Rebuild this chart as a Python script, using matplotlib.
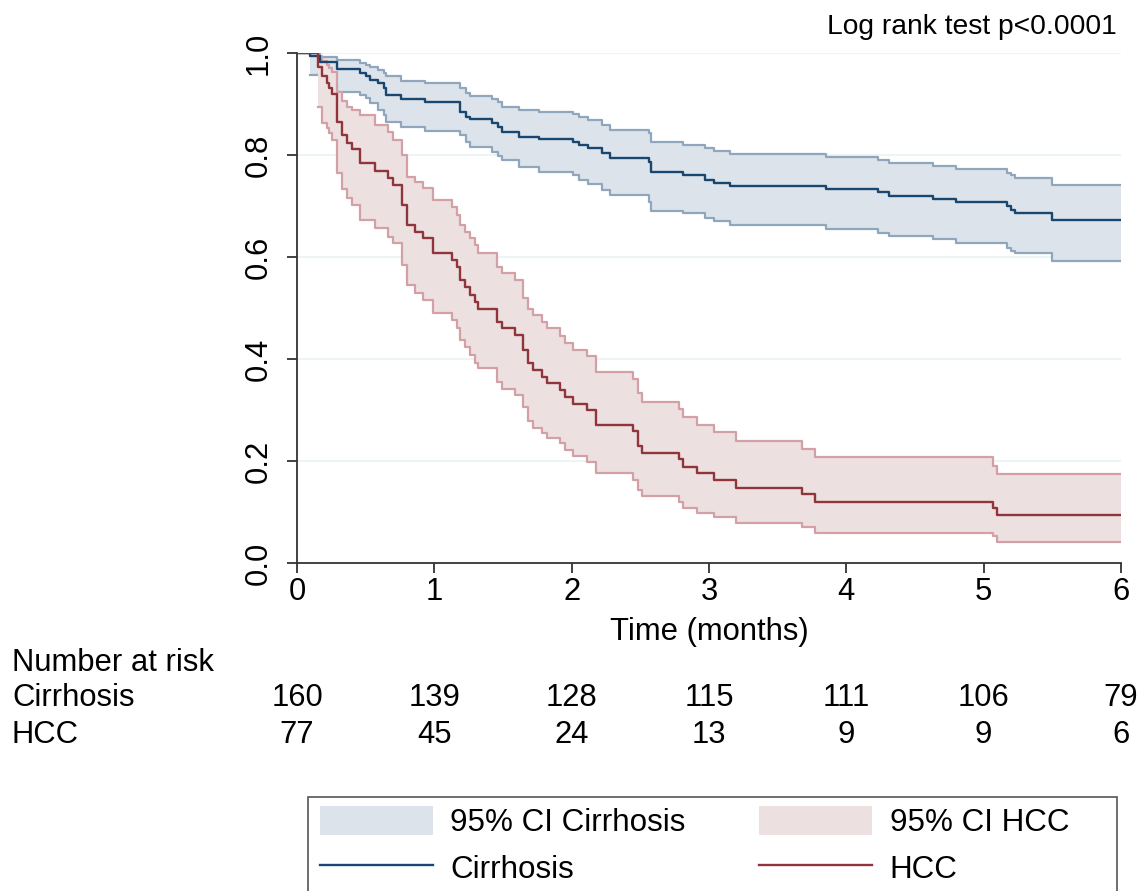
import numpy as np
import matplotlib
matplotlib.use("Agg")
import matplotlib.pyplot as plt
from matplotlib import transforms
from matplotlib.patches import Patch, Rectangle
from matplotlib.lines import Line2D

plt.rcParams['font.family'] = ['Liberation Sans', 'DejaVu Sans']

# ---------------- data ----------------
cir_t = [0.095, 0.17, 0.29, 0.46, 0.50, 0.53, 0.59, 0.63, 0.65, 0.76, 0.93,
         1.19, 1.23, 1.26, 1.42, 1.46, 1.49, 1.62, 1.76, 2.01, 2.05, 2.12,
         2.22, 2.28, 2.56, 2.58, 2.81, 2.97, 3.04, 3.15, 3.85, 4.23, 4.31,
         4.63, 4.80, 5.17, 5.20, 5.23, 5.50]
cir_s = [0.995, 0.982, 0.968, 0.960, 0.954, 0.948, 0.941, 0.931, 0.918, 0.909, 0.903,
         0.885, 0.875, 0.870, 0.862, 0.854, 0.846, 0.836, 0.831, 0.826, 0.820, 0.813,
         0.803, 0.794, 0.787, 0.766, 0.760, 0.751, 0.746, 0.740, 0.733, 0.728, 0.720,
         0.714, 0.707, 0.700, 0.692, 0.687, 0.673]
cir_hi = [1.000, 0.993, 0.986, 0.981, 0.976, 0.972, 0.967, 0.960, 0.954, 0.946, 0.941,
          0.931, 0.921, 0.916, 0.909, 0.903, 0.895, 0.888, 0.885, 0.880, 0.874, 0.869,
          0.859, 0.850, 0.843, 0.826, 0.820, 0.813, 0.808, 0.802, 0.797, 0.790, 0.784,
          0.778, 0.773, 0.765, 0.760, 0.755, 0.741]
cir_lo = [0.956, 0.940, 0.924, 0.918, 0.911, 0.901, 0.888, 0.878, 0.865, 0.854, 0.848,
          0.839, 0.826, 0.816, 0.806, 0.798, 0.790, 0.776, 0.767, 0.761, 0.751, 0.743,
          0.731, 0.722, 0.708, 0.691, 0.686, 0.677, 0.671, 0.663, 0.654, 0.648, 0.641,
          0.635, 0.628, 0.617, 0.612, 0.607, 0.592]

hcc_t = [0.155, 0.18, 0.216, 0.23, 0.257, 0.289, 0.325, 0.362, 0.40, 0.459, 0.568,
         0.665, 0.70, 0.762, 0.80, 0.859, 0.92, 0.993, 1.127, 1.163, 1.187, 1.224,
         1.26, 1.297, 1.32, 1.454, 1.49, 1.588, 1.648, 1.685, 1.72, 1.782, 1.82,
         1.916, 1.952, 2.01, 2.11, 2.18, 2.45, 2.48, 2.51, 2.78, 2.81, 2.91, 3.04,
         3.20, 3.676, 3.77, 5.07, 5.095]
hcc_s = [0.973, 0.954, 0.941, 0.932, 0.919, 0.865, 0.839, 0.823, 0.812, 0.784, 0.769,
         0.754, 0.742, 0.702, 0.663, 0.650, 0.637, 0.607, 0.594, 0.581, 0.555, 0.541,
         0.525, 0.512, 0.499, 0.473, 0.460, 0.447, 0.418, 0.392, 0.378, 0.365, 0.352,
         0.339, 0.326, 0.312, 0.300, 0.271, 0.258, 0.229, 0.216, 0.203, 0.189, 0.176, 0.162,
         0.148, 0.135, 0.120, 0.107, 0.094]
hcc_hi = [0.995, 0.985, 0.976, 0.970, 0.963, 0.924, 0.905, 0.895, 0.888, 0.878, 0.859,
          0.846, 0.829, 0.800, 0.757, 0.748, 0.735, 0.712, 0.699, 0.682, 0.663, 0.650,
          0.637, 0.624, 0.608, 0.581, 0.569, 0.555, 0.519, 0.499, 0.486, 0.473, 0.460,
          0.445, 0.432, 0.418, 0.405, 0.374, 0.360, 0.333, 0.316, 0.301, 0.287, 0.271, 0.256,
          0.240, 0.223, 0.207, 0.190, 0.174]
hcc_lo = [0.895, 0.862, 0.852, 0.844, 0.829, 0.764, 0.733, 0.715, 0.702, 0.673, 0.656,
          0.640, 0.627, 0.584, 0.545, 0.529, 0.516, 0.490, 0.476, 0.460, 0.437, 0.424,
          0.408, 0.393, 0.382, 0.355, 0.342, 0.330, 0.305, 0.278, 0.264, 0.255, 0.246,
          0.235, 0.222, 0.210, 0.199, 0.176, 0.163, 0.143, 0.131, 0.119, 0.108, 0.098, 0.090,
          0.079, 0.070, 0.059, 0.052, 0.041]

risk_times = [0, 1, 2, 3, 4, 5, 6]
risk_cir = [160, 139, 128, 115, 111, 106, 79]
risk_hcc = [77, 45, 24, 13, 9, 9, 6]

T_END = 6.0

# ---------------- styles ----------------
C_CIR = '#1a476f'
C_HCC = '#90353b'
F_CIR = '#dde3ea'
F_HCC = '#ede0e1'
E_CIR = '#8fa6bd'
E_HCC = '#d3a0a5'
FS = 22.3

W, H = 1146, 891
fig = plt.figure(figsize=(W / 100, H / 100), dpi=100)
ax = fig.add_axes([297 / W, 1 - 563 / H, (1121 - 297) / W, (563 - 53) / H])


def ext(t, v):
    return np.r_[t, T_END], np.r_[v, v[-1]]


def draw_group(t, s, lo, hi, fcol, ecol, lcol, zf):
    tt, ll = ext(t, lo)
    _, hh = ext(t, hi)
    ax.fill_between(tt, ll, hh, step='post', color=fcol, lw=0, zorder=zf)
    ax.step(tt, ll, where='post', color=ecol, lw=1.6, zorder=zf + 0.1)
    ax.step(tt, hh, where='post', color=ecol, lw=1.6, zorder=zf + 0.1)
    ts, ss = ext(np.r_[0.0, t], np.r_[1.0, s])
    ax.step(ts, ss, where='post', color=lcol, lw=1.7, zorder=5)


draw_group(cir_t, cir_s, cir_lo, cir_hi, F_CIR, E_CIR, C_CIR, 1)
draw_group(hcc_t, hcc_s, hcc_lo, hcc_hi, F_HCC, E_HCC, C_HCC, 2)

ax.set_xlim(0, 6)
ax.set_ylim(0, 1)
ax.set_xticks(range(0, 7))
ax.set_yticks(np.arange(0, 1.01, 0.2))
ax.set_yticklabels([f'{v:.1f}' for v in np.arange(0, 1.01, 0.2)], rotation=90, va='center')
for y in np.arange(0.2, 1.01, 0.2):
    ax.axhline(y, color='#eaf2f3', lw=1.2, zorder=0)
for side in ['top', 'right']:
    ax.spines[side].set_visible(False)
for side in ['left', 'bottom']:
    ax.spines[side].set_color('#333333')
    ax.spines[side].set_linewidth(1.3)
ax.tick_params(axis='both', colors='#333333', labelcolor='black', labelsize=FS,
               length=7, width=1.3)
ax.tick_params(axis='y', pad=10)
ax.tick_params(axis='x', pad=3)
ax.set_xlabel('Time (months)', fontsize=FS, labelpad=7)

fig.text(1117 / W, 1 - 27 / H, 'Log rank test p<0.0001', ha='right', va='center', fontsize=20.3)

# Number at risk table
fig.text(12 / W, 1 - 663 / H, 'Number at risk', ha='left', va='center', fontsize=FS)
fig.text(12 / W, 1 - 698 / H, 'Cirrhosis', ha='left', va='center', fontsize=FS)
fig.text(12 / W, 1 - 735 / H, 'HCC', ha='left', va='center', fontsize=FS)
blend = transforms.blended_transform_factory(ax.transData, fig.transFigure)
for tx, a, b in zip(risk_times, risk_cir, risk_hcc):
    ax.text(tx, 1 - 698 / H, str(a), transform=blend, ha='center', va='center',
            fontsize=FS, clip_on=False)
    ax.text(tx, 1 - 735 / H, str(b), transform=blend, ha='center', va='center',
            fontsize=FS, clip_on=False)

# legend frame (extends past bottom edge, as in the reference)
fig.patches.append(Rectangle((308 / W, -0.02), (1117 - 308) / W, 0.02 + 1 - 797 / H,
                             transform=fig.transFigure, facecolor='white',
                             edgecolor='#555555', lw=1.2, zorder=0))

handles = [Patch(facecolor=F_CIR, edgecolor='none'), Line2D([], [], color=C_CIR, lw=1.7),
           Patch(facecolor=F_HCC, edgecolor='none'), Line2D([], [], color=C_HCC, lw=1.7)]
labels = ['95% CI Cirrhosis', 'Cirrhosis', '95% CI HCC', 'HCC']
leg = fig.legend(handles, labels, ncol=2, loc='upper left',
                 bbox_to_anchor=(320 / W, 1 - 806 / H),
                 fontsize=22.6, frameon=False,
                 handlelength=3.6, handleheight=1.05, handletextpad=0.55,
                 columnspacing=2.35, borderpad=0, labelspacing=0.45, borderaxespad=0)

fig.savefig('out.png', dpi=100, facecolor='white')
